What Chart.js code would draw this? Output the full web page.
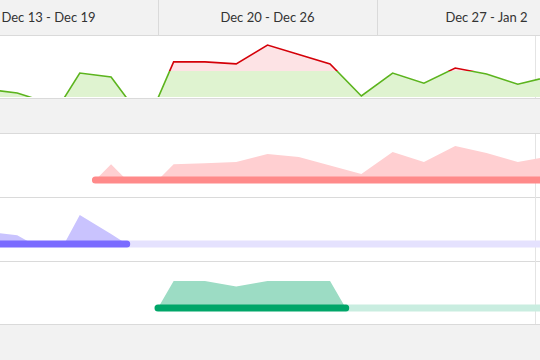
<!DOCTYPE html>
<html>
<head>
<meta charset="utf-8">
<script src="https://cdn.jsdelivr.net/npm/chart.js@4/dist/chart.umd.min.js"></script>
<style>
  body { margin: 0; background: #fff; }
  #wrap { position: relative; width: 540px; height: 360px; overflow: hidden; background: #fff; font-family: Lato, "Open Sans", sans-serif; }
  .band { position: absolute; left: 0; width: 540px; background: #f2f2f2; }
  .hline { position: absolute; left: 0; width: 540px; height: 1px; background: #dadada; }
  .vline { position: absolute; width: 1px; background: #dadada; }
  .week { position: absolute; top: 0; height: 35px; line-height: 35px; font-size: 13px; color: #333; white-space: nowrap; transform: translateX(-50%); }
  canvas { position: absolute; left: 0; }
</style>
</head>
<body>
<div id="wrap">
  <div class="band" style="top:0;height:35px"></div>
  <div class="band" style="top:98px;height:36px"></div>
  <div class="band" style="top:324px;height:36px"></div>
  <div class="hline" style="top:35px"></div>
  <div class="hline" style="top:98px"></div>
  <div class="hline" style="top:133px"></div>
  <div class="hline" style="top:197px"></div>
  <div class="hline" style="top:261px"></div>
  <div class="hline" style="top:324px"></div>
  <div class="vline" style="left:535px;top:36px;height:62px;background:#e4e4e4"></div>
  <div class="vline" style="left:535px;top:134px;height:190px;background:#e4e4e4"></div>
  <div id="header"></div>
  <canvas id="load" width="540" height="62" style="top:36px"></canvas>
  <canvas id="rowRed" width="540" height="62" style="top:134px"></canvas>
  <canvas id="rowPurple" width="540" height="62" style="top:198px"></canvas>
  <canvas id="rowGreen" width="540" height="62" style="top:262px"></canvas>
</div>
<script>
// days shown on the timeline (Dec 13 = day 0)
const days = ['Dec 13', 'Dec 14', 'Dec 15', 'Dec 16', 'Dec 17', 'Dec 18', 'Dec 19',
  'Dec 20', 'Dec 21', 'Dec 22', 'Dec 23', 'Dec 24', 'Dec 25', 'Dec 26',
  'Dec 27', 'Dec 28', 'Dec 29', 'Dec 30', 'Dec 31', 'Jan 1', 'Jan 2'];
const weekLabels = ['Dec 13 - Dec 19', 'Dec 20 - Dec 26', 'Dec 27 - Jan 2'];
const weekStarts = ['Dec 13', 'Dec 20', 'Dec 27'];

// total workload per day (hours) and daily capacity
const capacity = 8;
const totalHours = [3.0, 2.6, 1.5, 0, 7.4, 6.2, 0, 10.7, 10.7, 10.1, 15.7, 12.9, 10.1, 0.6,
  7.4, 4.4, 8.9, 7.1, 4.1, 6.3, 5.5];

// hours per day for each task
const redHours = [null, null, null, null, null, 4.7, 0, 4.7, 5.0, 5.3, 7.7, 6.8, 4.3, 1.8,
  8.3, 5.3, 10.1, 8.0, 5.3, 7.0, 6.0];
const purpleHours = [3.8, 3.6, 2.6, 0, 8.6, 3.0, null, null, null, null, null, null, null, null,
  null, null, null, null, null, null, null];
const greenHours = [null, null, null, null, null, null, null, 8, 8, 6.4, 8, 8, 8, null,
  null, null, null, null, null, null, null];

// task spans (first day, last day)
const redSpan = ['Dec 18', 'Jan 2'];
const purpleSpan = ['Dec 13', 'Dec 18'];
const greenSpan = ['Dec 20', 'Dec 25'];
const timelineEnd = 'Jan 2';

const X_MIN = 1.95, X_MAX = 19.21;
const PX_PER_HOUR = 3.375;

const dayIndex = d => days.indexOf(d);

// a point in the middle of each busy day, zero across idle days
function dayPoints(values) {
  const pts = [];
  values.forEach((v, i) => {
    if (v > 0) pts.push({ x: i + 0.5, y: v });
    else pts.push({ x: i, y: 0 }, { x: i + 1, y: 0 });
  });
  return pts;
}

// from the start of the first day to the end of the last day
function spanPoints(fromDay, toDay) {
  return [{ x: fromDay, y: 0 }, { x: toDay, y: 0 }];
}

function options(yMin, yMax) {
  return {
    responsive: false,
    animation: false,
    events: [],
    layout: { padding: 0 },
    plugins: { legend: { display: false }, tooltip: { enabled: false } },
    elements: { point: { radius: 0 }, line: { tension: 0 } },
    scales: {
      x: { type: 'linear', min: X_MIN, max: X_MAX, display: false },
      y: { min: yMin, max: yMax, display: false }
    }
  };
}

// colour above / below the capacity line
function splitColor(above, below) {
  return (ctx) => {
    const chart = ctx.chart;
    const area = chart.chartArea;
    if (!area || !chart.scales.y) return below;
    const yCap = chart.scales.y.getPixelForValue(capacity);
    const s = Math.min(1, Math.max(0, (yCap - area.top) / (area.bottom - area.top)));
    const g = chart.ctx.createLinearGradient(0, area.top, 0, area.bottom);
    g.addColorStop(0, above);
    g.addColorStop(s, above);
    g.addColorStop(s, below);
    g.addColorStop(1, below);
    return g;
  };
}

const loadChart = new Chart(document.getElementById('load'), {
  type: 'line',
  data: {
    datasets: [{
      data: dayPoints(totalHours),
      borderWidth: 1.6,
      borderColor: splitColor('#d40008', '#5cb41e'),
      backgroundColor: splitColor('#fde3e5', '#dff3d0'),
      fill: 'origin',
      clip: { left: 0, top: 0, right: 0, bottom: -1 }
    }]
  },
  options: options(0, 62 / PX_PER_HOUR)
});

function taskRow(id, hours, span, areaColor, barColor, lightColor) {
  const first = dayIndex(span[0]);
  const last = dayIndex(span[1]) + 1;
  const datasets = [
    { data: dayPoints(hours), borderWidth: 0, backgroundColor: areaColor, fill: 'origin', order: 3 },
    { data: spanPoints(last, dayIndex(timelineEnd) + 1), borderWidth: 7, borderColor: lightColor,
      borderCapStyle: 'butt', fill: false, order: 2 },
    { data: spanPoints(first, last), borderWidth: 7, borderColor: barColor,
      borderCapStyle: 'round', fill: false, order: 1 }
  ];
  return new Chart(document.getElementById(id), {
    type: 'line',
    data: { datasets },
    options: options(-16 / PX_PER_HOUR, 46 / PX_PER_HOUR)
  });
}

taskRow('rowRed', redHours, redSpan, '#ffcfd1', '#ff8a8a', '#ffe3e3');
taskRow('rowPurple', purpleHours, purpleSpan, '#c9c3fe', '#7a6bff', '#e5e2fe');
taskRow('rowGreen', greenHours, greenSpan, '#9cdcc4', '#00a669', '#c9ede0');

// week header from the same x scale
const xs = loadChart.scales.x;
const header = document.getElementById('header');
weekLabels.forEach((label, i) => {
  const start = dayIndex(weekStarts[i]);
  const el = document.createElement('div');
  el.className = 'week';
  el.style.left = xs.getPixelForValue(start + 3.5) + 'px';
  el.textContent = label;
  header.appendChild(el);
  const x = xs.getPixelForValue(start);
  if (x > 0 && x < 540) {
    const line = document.createElement('div');
    line.className = 'vline';
    line.style.left = Math.round(x) + 'px';
    line.style.top = '0px';
    line.style.height = '35px';
    header.appendChild(line);
  }
});
</script>
</body>
</html>
